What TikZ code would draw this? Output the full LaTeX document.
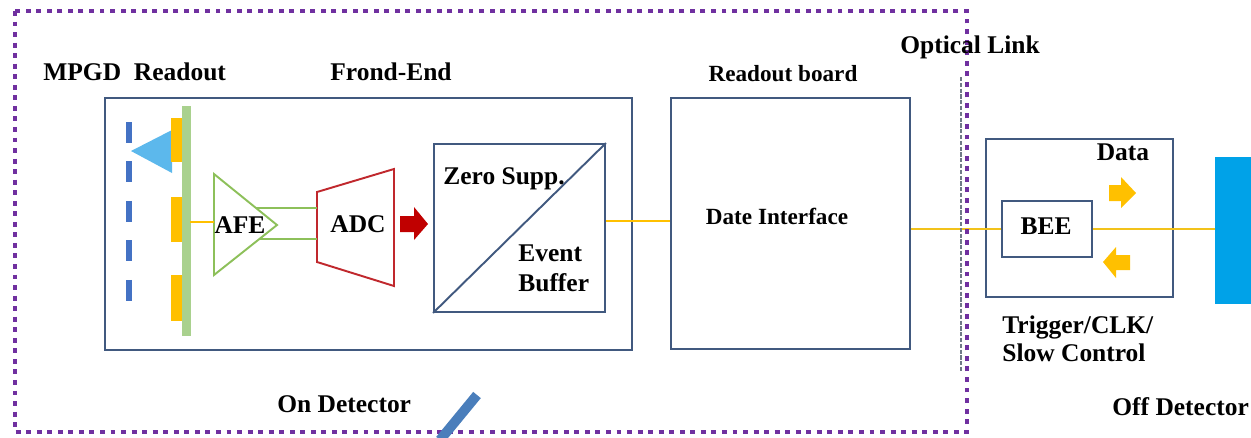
\documentclass[tikz,border=0pt]{standalone}
\usepackage{fontspec}
\setmainfont{Liberation Serif}
\usetikzlibrary{calc}
\definecolor{frame}{HTML}{41597F}
\definecolor{zone}{HTML}{7030A0}
\definecolor{padorange}{HTML}{FFC000}
\definecolor{stripgreen}{HTML}{A9D18E}
\definecolor{ampgreen}{HTML}{8DC05A}
\definecolor{adcred}{HTML}{C0282D}
\definecolor{arrowred}{HTML}{C00000}
\definecolor{cathode}{HTML}{4472C4}
\definecolor{ion}{HTML}{5CB8EC}
\definecolor{server}{HTML}{00A2E8}
\definecolor{fibre}{HTML}{F2C21A}
\definecolor{divider}{HTML}{6F7A87}
\definecolor{slash}{HTML}{4A7EBB}
\tikzset{
  box/.style={draw=frame, line width=1.1pt, rectangle, inner sep=0pt},
  lbl/.style={font=\bfseries\fontsize{14.5}{17}\selectfont, inner sep=0pt, text=black},
  smalllbl/.style={font=\bfseries\fontsize{13.2}{16}\selectfont, inner sep=0pt, text=black},
  signal/.style={draw=padorange, line width=1.4pt},
  optic/.style={draw=fibre, line width=1.1pt},
  blockarrow/.style={fill=padorange, draw=none},
}
\begin{document}
\begin{tikzpicture}[x=0.02cm, y=-0.02cm]
\useasboundingbox (0,0) rectangle (1251,437);

% main boxes
\node[box, minimum width=10.54cm, minimum height=5.04cm] (fe) at (368.5,224) {};
\node[box, minimum width=4.78cm, minimum height=5.02cm] (rb) at (790.5,223.5) {};
\node[box, minimum width=3.42cm, minimum height=3.36cm] (zs) at (519.5,228) {};
\draw[frame, line width=1.1pt] (zs.south west) -- (zs.north east);
\node[box, minimum width=3.74cm, minimum height=3.16cm] (bbox) at (1079.5,218) {};
\node[box, minimum width=1.8cm, minimum height=1.12cm] (bee) at (1047,229) {};
\node[fill=server, minimum width=0.9cm, minimum height=2.94cm, inner sep=0pt] (srv) at (1237.5,230.5) {};

% MPGD: cathode dashes, ion cloud, pads, readout strip
\draw[cathode, line width=3.2pt, dash pattern=on 0.42cm off 0.37cm] (129,122) -- (129,303);
\fill[ion] (131,151) -- (172,130) -- (172,173) -- cycle;
\foreach \ya/\yb in {118/162, 197/242, 275/321}
  \fill[padorange] (171,\ya) rectangle (182,\yb);
\node[fill=stripgreen, minimum width=0.18cm, minimum height=4.6cm, inner sep=0pt] (strip) at (186,221) {};

% AFE amplifier
\coordinate (afeA) at (214,174);
\coordinate (afeB) at (214,275);
\coordinate (afeT) at (277,225);
\draw[ampgreen, line width=1.1pt] (afeA) -- (afeT) -- (afeB) -- cycle;
\node[lbl] (afe) at (240,225) {AFE};

% ADC trapezoid
\coordinate (adcA) at (317,192);
\coordinate (adcB) at (394,169);
\coordinate (adcC) at (394,286);
\coordinate (adcD) at (317,262);
\draw[adcred, line width=1.1pt] (adcA) -- (adcB) -- (adcC) -- (adcD) -- cycle;
\node[lbl] (adc) at (358,224) {ADC};

% signal paths
\coordinate (stripout) at (190,222);
\draw[signal] (stripout) -- (stripout -| afeA);
\coordinate (amp1) at (256,208);
\coordinate (amp2) at (259,239);
\draw[ampgreen, line width=1.1pt] (amp1) -- (amp1 -| adcA);
\draw[ampgreen, line width=1.1pt] (amp2) -- (amp2 -| adcA);
\fill[arrowred] (400,216) -- (414,216) -- (414,207) -- (428,224) -- (414,240) -- (414,232) -- (400,232) -- cycle;
\coordinate (zsout) at ([yshift=0.14cm]zs.east);
\draw[signal] (zsout) -- (zsout -| rb.west);
\draw[optic] (bee.west -| rb.east) -- (bee.west);
\draw[optic] (bee.east) -- (bee.east -| srv.west);

% data / control arrows
\fill[blockarrow] (1109,185) -- (1121,185) -- (1121,177) -- (1136,193) -- (1121,208) -- (1121,201) -- (1109,201) -- cycle;
\fill[blockarrow] (1130,255) -- (1116,255) -- (1116,247) -- (1103,262) -- (1116,278) -- (1116,270) -- (1130,270) -- cycle;

% optical link divider and on-detector zone
\draw[divider, line width=1.5pt, dash pattern=on 2.4pt off 0.9pt] (961,77) -- (961,372);
\draw[zone, line width=2.8pt, dash pattern=on 2.8pt off 3.2pt] (15,11) rectangle (967,432);
\draw[slash, line width=5.6pt] (440,440) -- (477,395);

% labels
\node[lbl, anchor=west] (mpgd) at (43,72) {MPGD\hspace{0.5em}Readout};
\node[lbl, anchor=west] (fend) at (330,72) {Frond-End};
\node[smalllbl] (rbl) at (783,74) {Readout board};
\node[lbl, anchor=west] (opt) at (900,47) {Optical Link};
\node[lbl, anchor=west] (zsl) at (443,179) {Zero Supp.};
\node[lbl, anchor=west, align=left] (ebl) at (518,268) {Event\\Buffer};
\node[smalllbl] (dil) at (777,216) {Date Interface};
\node[lbl] (beel) at (1046,226) {BEE};
\node[lbl] (datal) at (1123,152) {Data};
\node[lbl, anchor=west, align=left, font=\bfseries\fontsize{14.5}{16}\selectfont] (trg) at (1002,339) {Trigger/CLK/\\Slow Control};
\node[lbl, anchor=west] (ondet) at (277,404) {On Detector};
\node[lbl, anchor=west] (offdet) at (1112,407) {Off Detector};
\end{tikzpicture}
\end{document}
